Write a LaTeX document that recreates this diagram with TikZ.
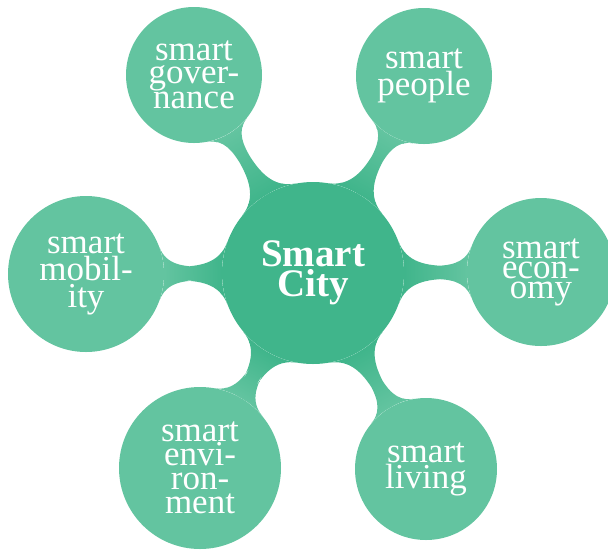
\documentclass[tikz,border=0pt]{standalone}
\usepackage{fontspec}
\setmainfont{Liberation Serif}
\usetikzlibrary{mindmap}
\definecolor{hubc}{RGB}{64,181,139}
\definecolor{leafc}{RGB}{99,196,160}
\tikzset{
  hub/.style={circle, fill=hubc, text=white, inner sep=0pt, minimum size=#1, align=center,
    font=\fontsize{39}{30}\selectfont\bfseries},
  leaf/.style={circle, fill=leafc, text=white, inner sep=0pt, minimum size=#1, align=center},
  bar/.style={circle connection bar switch color=from (hubc) to (leafc)}
}
\begin{document}
\begin{tikzpicture}[x=1pt,y=-1pt]
\useasboundingbox (0,0) rectangle (608,550);
\node[hub=182pt] (c) at (313,273) {Smart\\City};
\node[leaf=136pt, font=\fontsize{35}{23.5}\selectfont] (gov) at (194,75) {smart\\gover-\\nance};
\node[leaf=136pt, font=\fontsize{35}{27}\selectfont] (peo) at (424,76) {smart\\people};
\node[leaf=148pt, font=\fontsize{35}{20}\selectfont] (eco) at (541,272) {smart\\econ-\\omy};
\node[leaf=142pt, font=\fontsize{35}{26}\selectfont] (liv) at (426,469) {smart\\living};
\node[leaf=162pt, font=\fontsize{35}{24}\selectfont] (env) at (200,468) {smart\\envi-\\ron-\\ment};
\node[leaf=156pt, font=\fontsize{35}{27}\selectfont] (mob) at (86,274) {smart\\mobil-\\ity};
\foreach \n in {gov,peo,eco,liv,env,mob}
  \path (c) to[bar] (\n);
\end{tikzpicture}
\end{document}
